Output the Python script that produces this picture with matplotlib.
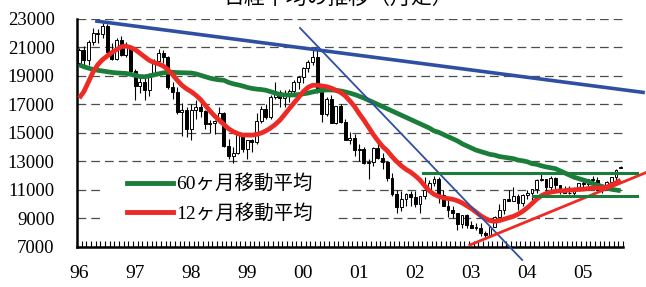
import matplotlib
matplotlib.use("Agg")
import matplotlib.pyplot as plt
from matplotlib.patches import Rectangle
import numpy as np

plt.rcParams["font.family"] = ["Liberation Serif", "Noto Sans CJK JP", "DejaVu Sans"]

# monthly candles, Jan 1996 .. Sep 2005
opens = [19945, 20813, 20125, 21406, 22041, 21956, 22530, 20692, 20167, 21556, 20466, 21020,
         19361, 18330, 18557, 18003, 19151, 20068, 20604, 20331, 18229, 17888, 16459, 16636,
         15258, 16628, 16831, 16527, 15641, 15670, 15830, 16379, 14108, 13406, 13565, 14883,
         13842, 14499, 14368, 15837, 16702, 16112, 17530, 17862, 17437, 17605, 17942, 18558,
         18934, 19540, 19960, 20337, 17974, 16332, 17411, 15727, 16861, 15747, 14539, 14649,
         13785, 13843, 12883, 12999, 13934, 13262, 12969, 11860, 10713, 9774, 10366, 10697,
         10542, 9997, 10587, 11024, 11492, 11763, 10621, 9877, 9619, 9383, 8640, 9215,
         8578, 8339, 8363, 7972, 7831, 8424, 9083, 9563, 10343, 10219, 10559, 10100,
         10676, 10783, 11041, 11715, 11761, 11236, 11858, 11325, 11081, 10823, 10771, 11072,
         11488, 11387, 11740, 11668, 11008, 11276, 11584, 11899, 12560]
highs = [20950, 21100, 21500, 22350, 22300, 22750, 22670, 21300, 21700, 21800, 21400, 21100,
         19500, 19000, 18900, 19200, 20200, 20900, 20800, 20400, 18600, 18200, 17100, 16800,
         17000, 17300, 17300, 16600, 15900, 15900, 16800, 16500, 14600, 14000, 15100, 15000,
         14500, 14600, 16400, 16900, 17000, 17700, 18600, 18000, 18000, 18100, 18700, 19000,
         19600, 20100, 20800, 20833, 18000, 17500, 17700, 16900, 17000, 16000, 15100, 14900,
         14200, 14000, 13200, 14000, 14500, 13600, 13000, 12200, 11000, 10900, 10800, 10900,
         10900, 10600, 11900, 11700, 12000, 11900, 11000, 10300, 9900, 9400, 9200, 9300,
         8800, 8700, 8700, 8100, 8500, 9200, 10000, 10400, 11000, 11200, 10700, 10700,
         11000, 11100, 11800, 12200, 11800, 12000, 11900, 11300, 11300, 11300, 11200, 11500,
         11600, 11800, 12000, 11900, 11300, 11600, 11900, 12500, 12650]
lows = [19700, 19800, 19750, 21200, 21300, 21700, 20400, 20100, 20100, 20400, 20300, 19150,
        17300, 17800, 17300, 17600, 19000, 19900, 19900, 18100, 17400, 16300, 14800, 14700,
        14500, 16000, 16100, 15300, 15000, 14900, 15700, 14000, 13200, 12900, 13500, 13700,
        13200, 13700, 14200, 15700, 16000, 16000, 17400, 16800, 16800, 17200, 17800, 18100,
        18500, 19300, 19800, 17800, 15800, 16200, 15700, 15600, 15700, 14500, 14200, 13400,
        13000, 12800, 11800, 12700, 13200, 12500, 11600, 10600, 9400, 9500, 9900, 9900,
        9800, 9400, 10400, 10900, 11300, 10100, 9900, 9100, 9000, 8200, 8300, 8300,
        8300, 8200, 7800, 7600, 7800, 8400, 9000, 9300, 10200, 10200, 9600, 9900,
        10400, 10300, 10800, 11600, 10500, 11000, 11000, 10700, 10800, 10700, 10600, 10900,
        11200, 11300, 11500, 10900, 10800, 11200, 11400, 11700, 12550]
closes = [20813, 20125, 21406, 22041, 21956, 22530, 20692, 20167, 21556, 20466, 21020, 19361,
          18330, 18557, 18003, 19151, 20068, 20604, 20331, 18229, 17888, 16459, 16636, 15258,
          16628, 16831, 16527, 15641, 15670, 15830, 16379, 14108, 13406, 13565, 14883, 13842,
          14499, 14368, 15837, 16702, 16112, 17530, 17862, 17437, 17605, 17942, 18558, 18934,
          19540, 19960, 20337, 17974, 16332, 17411, 15727, 16861, 15747, 14539, 14649, 13785,
          13843, 12883, 12999, 13934, 13262, 12969, 11860, 10713, 9774, 10366, 10697, 10542,
          9997, 10587, 11024, 11492, 11763, 10621, 9877, 9619, 9383, 8640, 9215, 8578,
          8339, 8363, 7972, 7831, 8424, 9083, 9563, 10343, 10219, 10559, 10100, 10676,
          10783, 11041, 11715, 11761, 11236, 11858, 11325, 11081, 10823, 10771, 11072, 11488,
          11387, 11740, 11668, 11008, 11276, 11584, 11899, 12413, 12620]

# moving averages
ma12 = [17450, 17900, 18600, 19300, 19800, 20150, 20400, 20650, 20850, 21050, 21100, 21000,
        20850, 20600, 20350, 20100, 19950, 19850, 19700, 19450, 19100, 18700, 18350, 18100,
        17900, 17650, 17350, 16950, 16550, 16200, 15900, 15600, 15300, 15100, 14950, 14850,
        14850, 14850, 14900, 15000, 15150, 15350, 15600, 15900, 16300, 16700, 17100, 17500,
        17900, 18200, 18350, 18350, 18300, 18250, 18150, 18000, 17850, 17600, 17250, 16850,
        16350, 15900, 15400, 14900, 14450, 14050, 13750, 13350, 13000, 12700, 12450, 12250,
        12000, 11700, 11300, 10950, 10700, 10550, 10450, 10400, 10350, 10250, 10100, 9900,
        9700, 9450, 9200, 9000, 8850, 8800, 8850, 8950, 9050, 9150, 9300, 9500,
        9750, 10050, 10350, 10600, 10750, 10850, 10900, 10950, 10950, 11000, 11000, 11050,
        11050, 11100, 11150, 11150, 11150, 11200, 11350, 11500, 11700]
ma60 = [19780, 19650, 19550, 19450, 19400, 19350, 19300, 19250, 19220, 19200, 19180, 19120,
        19050, 18960, 18950, 19000, 19080, 19150, 19220, 19260, 19260, 19240, 19230, 19220,
        19210, 19150, 19050, 18950, 18850, 18780, 18730, 18700, 18550, 18450, 18380, 18300,
        18200, 18130, 18080, 18050, 18000, 17900, 17800, 17700, 17670, 17660, 17670, 17700,
        17750, 17800, 17880, 17950, 18000, 18020, 18020, 18000, 17950, 17880, 17800, 17700,
        17580, 17450, 17300, 17150, 17000, 16850, 16700, 16550, 16400, 16250, 16100, 15950,
        15800, 15650, 15500, 15350, 15150, 15050, 14900, 14750, 14600, 14450, 14250, 14100,
        13950, 13800, 13700, 13600, 13500, 13450, 13350, 13300, 13250, 13200, 13100, 13050,
        12980, 12850, 12800, 12700, 12620, 12560, 12500, 12350, 12200, 12050, 11900, 11800,
        11700, 11600, 11450, 11350, 11250, 11150, 11050, 11000, 10950]

year_labels = ["96", "97", "98", "99", "00", "01", "02", "03", "04", "05"]

# trend lines: (month index, value) end points
blue_long = [(3.8, 22850), (120.8, 17850)]
blue_steep = [(47.3, 22370), (94.9, 6090)]
red_support = [(83.7, 7140), (121.4, 12220)]
green_upper = [(73.6, 12210), (119.5, 12210)]
green_lower = [(97.2, 10600), (119.5, 10600)]

fig = plt.figure(figsize=(6.46, 2.87), dpi=100)
ax = fig.add_axes([0.119, 0.1394, 0.8454, 0.7944])

x = np.arange(len(closes))
o = np.array(opens)
c = np.array(closes)
body_col = np.where(c >= o, "white", "black")
body_h = np.maximum(np.abs(c - o), 40)
ax.vlines(x, lows, highs, color="black", lw=0.8, zorder=2)
ax.bar(x, body_h, bottom=np.minimum(o, c), width=0.62, color=body_col,
       edgecolor="black", linewidth=0.7, zorder=3)

ax.plot(x, ma60, color="#1b7d3a", lw=3.4, zorder=4, solid_capstyle="butt")
ax.plot(x, ma12, color="#ee2a24", lw=3.4, zorder=4, solid_capstyle="butt")

for pts, col, lw in [(blue_long, "#2f4fa3", 2.6), (blue_steep, "#2f4fa3", 1.3),
                     (red_support, "#ee2a24", 2.0), (green_upper, "#1b7d3a", 2.2),
                     (green_lower, "#1b7d3a", 2.2)]:
    ax.plot([p[0] for p in pts], [p[1] for p in pts], color=col, lw=lw,
            zorder=5, clip_on=False)

ax.set_xlim(-0.5, len(closes) - 0.5)
ax.set_ylim(7000, 23000)
ax.set_yticks(range(7000, 23001, 2000))
ax.set_xticks(np.arange(0, len(closes), 12))
ax.set_xticklabels(year_labels)
ax.set_xticks(np.arange(-0.5, len(closes), 1), minor=True)
ax.yaxis.grid(True, ls=(0, (7, 4)), color="0.3", lw=0.9)
ax.set_axisbelow(True)

for s in ["top", "right"]:
    ax.spines[s].set_visible(False)
ax.spines["left"].set_linewidth(1.8)
ax.spines["bottom"].set_linewidth(1.8)
ax.tick_params(axis="y", length=0, pad=16, labelsize=13.5)
ax.tick_params(axis="x", which="major", length=0, pad=13, labelsize=14)
ax.tick_params(axis="x", which="minor", direction="in", length=4, width=0.8)

# white block behind the legend (hides the grid there)
ax.add_patch(Rectangle((0.042, 0.066), 0.431, 0.28, transform=ax.transAxes,
                       facecolor="white", edgecolor="none", zorder=4.5))
leg = ax.legend([plt.Line2D([], [], color="#1b7d3a", lw=3.5),
                 plt.Line2D([], [], color="#ee2a24", lw=3.5)],
                ["60ヶ月移動平均", "12ヶ月移動平均"],
                loc="upper left", bbox_to_anchor=(0.092, 0.318), frameon=False,
                borderpad=0, borderaxespad=0, handlelength=2.35, handletextpad=0.15,
                labelspacing=0.55, prop={"size": 14})
leg.set_zorder(6)

fig.text(0.523, 0.988, "日経平均の推移（月足）", ha="center", va="baseline",
         fontsize=15, family=["Noto Sans CJK JP", "DejaVu Sans"])

fig.savefig("out.png", dpi=100)
